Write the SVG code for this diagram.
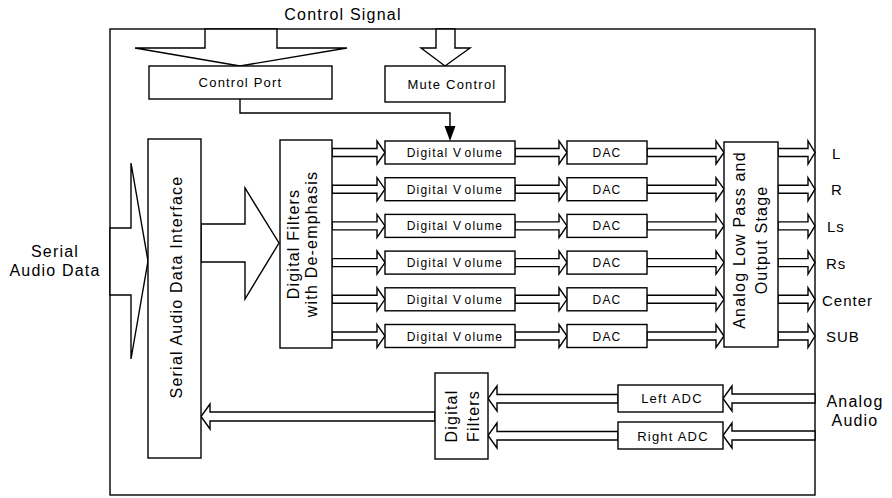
<svg xmlns="http://www.w3.org/2000/svg" width="892" height="498" viewBox="0 0 892 498">
<style>
text{font-family:"Liberation Sans",Arial,sans-serif;fill:#000}
.box{fill:#fff;stroke:#000;stroke-width:1.4}
.ar{fill:#fff;stroke:#000;stroke-width:1.4;stroke-linejoin:miter}
.ln{fill:none;stroke:#000;stroke-width:1.4}
.lbl{font-size:15px;letter-spacing:1px}
.big{font-size:16px;letter-spacing:1.2px}
.sm{font-size:13px;letter-spacing:1.2px;text-anchor:middle}
.dv{font-size:12px;letter-spacing:1.2px;text-anchor:middle}
.rot{font-size:16px;letter-spacing:1.2px;text-anchor:middle}
</style>
<rect width="892" height="498" fill="#fff"/>
<rect x="110" y="29" width="705" height="466" class="ln" stroke-width="1.5"/>
<text x="343" y="20" class="big" text-anchor="middle">Control Signal</text>
<g id="label-serial-audio-data"><text x="55" y="257" class="big" text-anchor="middle">Serial</text><text x="55" y="276" class="big" text-anchor="middle">Audio Data</text></g>
<g id="label-analog-audio"><text x="855" y="407" class="big" text-anchor="middle">Analog</text><text x="855" y="426" class="big" text-anchor="middle">Audio</text></g>
<g id="connectors">
<polygon class="ar" points="205,29 205,48 135,48 240,66 347,48 277,48 277,29"/>
<polygon class="ar" points="436,29 436,48 421,48 445,66 470,48 455,48 455,29"/>
<polygon class="ar" points="110,228 131,228 131,163 148,261 131,359 131,295 110,295"/>
<polygon class="ar" points="201,224 245,224 245,188 279,243 245,299 245,262 201,262"/>
<path class="ln" d="M240,99 V113 H450 V127"/>
<polygon points="444.5,126 455.5,126 450,141" fill="#000"/>
<!-- row arrows -->
<polygon class="ar" points="332,148.5 377,148.5 377,141 385,152.5 377,164 377,156.5 332,156.5"/>
<polygon class="ar" points="515,148.5 559,148.5 559,141 567,152.5 559,164 559,156.5 515,156.5"/>
<polygon class="ar" points="647,148.5 716,148.5 716,141 724,152.5 716,164 716,156.5 647,156.5"/>
<polygon class="ar" points="778,148.5 808,148.5 808,141 815,152.5 808,164 808,156.5 778,156.5"/>
<polygon class="ar" points="332,185.2 377,185.2 377,177.7 385,189.2 377,200.7 377,193.2 332,193.2"/>
<polygon class="ar" points="515,185.2 559,185.2 559,177.7 567,189.2 559,200.7 559,193.2 515,193.2"/>
<polygon class="ar" points="647,185.2 716,185.2 716,177.7 724,189.2 716,200.7 716,193.2 647,193.2"/>
<polygon class="ar" points="778,185.2 808,185.2 808,177.7 815,189.2 808,200.7 808,193.2 778,193.2"/>
<polygon class="ar" points="332,221.9 377,221.9 377,214.4 385,225.9 377,237.4 377,229.9 332,229.9"/>
<polygon class="ar" points="515,221.9 559,221.9 559,214.4 567,225.9 559,237.4 559,229.9 515,229.9"/>
<polygon class="ar" points="647,221.9 716,221.9 716,214.4 724,225.9 716,237.4 716,229.9 647,229.9"/>
<polygon class="ar" points="778,221.9 808,221.9 808,214.4 815,225.9 808,237.4 808,229.9 778,229.9"/>
<polygon class="ar" points="332,258.6 377,258.6 377,251.1 385,262.6 377,274.1 377,266.6 332,266.6"/>
<polygon class="ar" points="515,258.6 559,258.6 559,251.1 567,262.6 559,274.1 559,266.6 515,266.6"/>
<polygon class="ar" points="647,258.6 716,258.6 716,251.1 724,262.6 716,274.1 716,266.6 647,266.6"/>
<polygon class="ar" points="778,258.6 808,258.6 808,251.1 815,262.6 808,274.1 808,266.6 778,266.6"/>
<polygon class="ar" points="332,295.3 377,295.3 377,287.8 385,299.3 377,310.8 377,303.3 332,303.3"/>
<polygon class="ar" points="515,295.3 559,295.3 559,287.8 567,299.3 559,310.8 559,303.3 515,303.3"/>
<polygon class="ar" points="647,295.3 716,295.3 716,287.8 724,299.3 716,310.8 716,303.3 647,303.3"/>
<polygon class="ar" points="778,295.3 808,295.3 808,287.8 815,299.3 808,310.8 808,303.3 778,303.3"/>
<polygon class="ar" points="332,332 377,332 377,324.5 385,336 377,347.5 377,340 332,340"/>
<polygon class="ar" points="515,332 559,332 559,324.5 567,336 559,347.5 559,340 515,340"/>
<polygon class="ar" points="647,332 716,332 716,324.5 724,336 716,347.5 716,340 647,340"/>
<polygon class="ar" points="778,332 808,332 808,324.5 815,336 808,347.5 808,340 778,340"/>
<!-- ADC arrows -->
<polygon class="ar" points="815,394 732,394 732,386 723,398.5 732,411 732,403 815,403"/>
<polygon class="ar" points="815,431 732,431 732,423 723,435.5 732,448 732,440 815,440"/>
<polygon class="ar" points="618,394.5 497,394.5 497,386 488,398.5 497,411 497,403 618,403"/>
<polygon class="ar" points="618,431.5 497,431.5 497,423 488,435.5 497,448 497,440 618,440"/>
<polygon class="ar" points="435,412 210,412 210,404 201,416.5 210,429 210,421 435,421"/>
</g>
<g id="control-port"><rect x="149" y="66" width="183" height="33" class="box"/><text x="240.5" y="87" class="sm">Control Port</text></g>
<g id="mute-control"><rect x="385" y="66" width="120" height="36" class="box"/><text x="452" y="89" class="sm">Mute Control</text></g>
<g id="serial-audio-data-interface"><rect x="148" y="139" width="53" height="319" class="box"/><text transform="translate(182,287) rotate(-90)" class="rot">Serial  Audio Data Interface</text></g>
<g id="digital-filters-deemphasis"><rect x="280" y="140" width="52" height="208" class="box"/><text transform="translate(299,244) rotate(-90)" class="rot">Digital Filters</text><text transform="translate(317,244) rotate(-90)" class="rot">with De-emphasis</text></g>
<g id="dv1"><rect x="385" y="141" width="130" height="23" class="box"/><text x="455" y="157" class="dv">Digital V<tspan dx="3">olume</tspan></text></g>
<g id="dv2"><rect x="385" y="177.7" width="130" height="23" class="box"/><text x="455" y="193.7" class="dv">Digital V<tspan dx="3">olume</tspan></text></g>
<g id="dv3"><rect x="385" y="214.4" width="130" height="23" class="box"/><text x="455" y="230.4" class="dv">Digital V<tspan dx="3">olume</tspan></text></g>
<g id="dv4"><rect x="385" y="251.1" width="130" height="23" class="box"/><text x="455" y="267.1" class="dv">Digital V<tspan dx="3">olume</tspan></text></g>
<g id="dv5"><rect x="385" y="287.8" width="130" height="23" class="box"/><text x="455" y="303.8" class="dv">Digital V<tspan dx="3">olume</tspan></text></g>
<g id="dv6"><rect x="385" y="324.5" width="130" height="23" class="box"/><text x="455" y="340.5" class="dv">Digital V<tspan dx="3">olume</tspan></text></g>
<g id="dac1"><rect x="567" y="141" width="80" height="23" class="box"/><text x="607" y="157" class="dv" letter-spacing="0">DAC</text></g>
<g id="dac2"><rect x="567" y="177.7" width="80" height="23" class="box"/><text x="607" y="193.7" class="dv" letter-spacing="0">DAC</text></g>
<g id="dac3"><rect x="567" y="214.4" width="80" height="23" class="box"/><text x="607" y="230.4" class="dv" letter-spacing="0">DAC</text></g>
<g id="dac4"><rect x="567" y="251.1" width="80" height="23" class="box"/><text x="607" y="267.1" class="dv" letter-spacing="0">DAC</text></g>
<g id="dac5"><rect x="567" y="287.8" width="80" height="23" class="box"/><text x="607" y="303.8" class="dv" letter-spacing="0">DAC</text></g>
<g id="dac6"><rect x="567" y="324.5" width="80" height="23" class="box"/><text x="607" y="340.5" class="dv" letter-spacing="0">DAC</text></g>
<g id="analog-lowpass-output"><rect x="724" y="142" width="54" height="205" class="box"/><text transform="translate(745,240) rotate(-90)" class="rot">Analog Low Pass and</text><text transform="translate(767,240) rotate(-90)" class="rot">Output Stage</text></g>
<g id="outputs">
<text x="832" y="158.5" class="lbl">L</text>
<text x="831" y="195" class="lbl">R</text>
<text x="827" y="232" class="lbl">Ls</text>
<text x="826" y="268.5" class="lbl">Rs</text>
<text x="822" y="305.5" class="lbl">Center</text>
<text x="826" y="342" class="lbl">SUB</text>
</g>
<g id="digital-filters-adc"><rect x="435" y="373" width="53" height="86" class="box"/><text transform="translate(457,416) rotate(-90)" class="rot">Digital</text><text transform="translate(479,416) rotate(-90)" class="rot">Filters</text></g>
<g id="left-adc"><rect x="618" y="385" width="105" height="27" class="box"/><text x="672" y="403" class="sm">Left ADC</text></g>
<g id="right-adc"><rect x="618" y="422" width="105" height="27" class="box"/><text x="673" y="440.5" class="sm">Right ADC</text></g>
</svg>
